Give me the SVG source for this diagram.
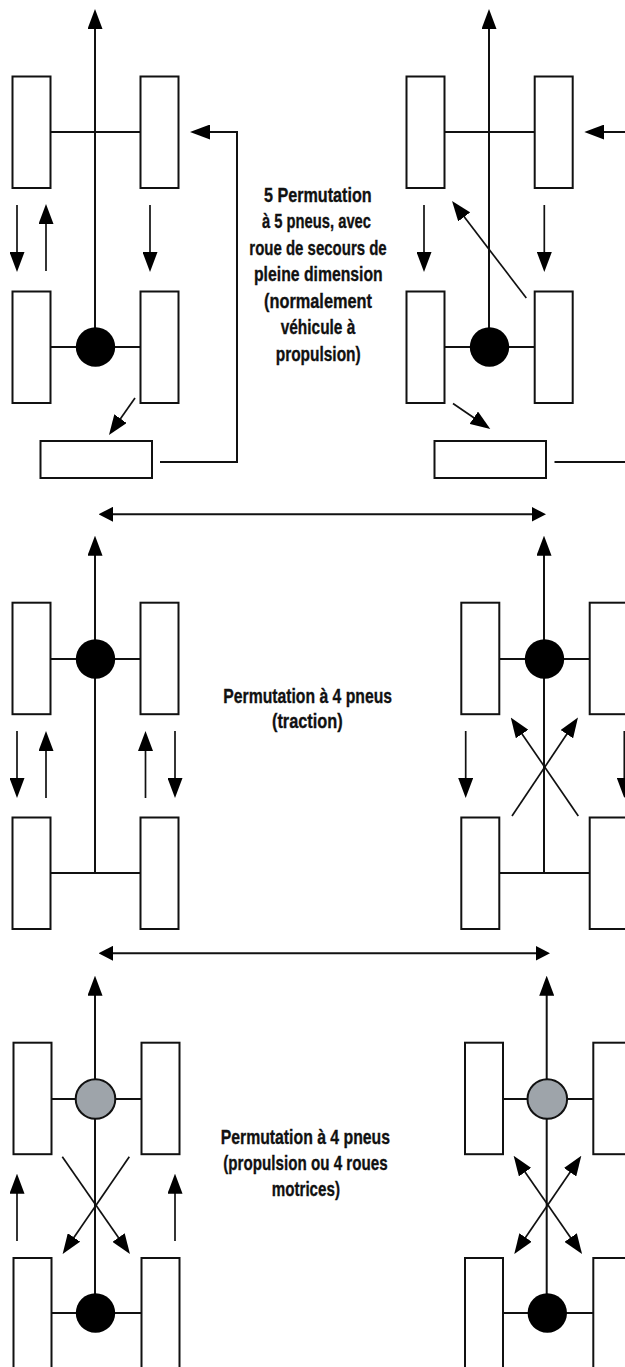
<svg xmlns="http://www.w3.org/2000/svg" width="625" height="1367" viewBox="0 0 625 1367">
<style>
.w{fill:#fff;stroke:#111;stroke-width:2}
.c{fill:none;stroke:#111;stroke-width:2}
.t{fill:none;stroke:#111;stroke-width:1.7}
.a{marker-end:url(#h)}
.b{marker-start:url(#s);marker-end:url(#s)}
.d{marker-start:url(#h);marker-end:url(#h)}
.k{fill:#000}
.g{fill:#9ea4aa;stroke:#111;stroke-width:2}
text{font-family:"Liberation Sans",Arial,sans-serif;font-weight:700;font-size:21px;fill:#111;stroke:#111;stroke-width:.35}
</style>
<defs>
<marker id="h" markerUnits="userSpaceOnUse" markerWidth="20" markerHeight="15" viewBox="0 0 20 15" refX="1" refY="7.5" orient="auto-start-reverse"><path d="M0,0L20,7.5L0,15z" fill="#000"/></marker>
<marker id="s" markerUnits="userSpaceOnUse" markerWidth="14.5" markerHeight="15" viewBox="0 0 14.5 15" refX="1" refY="7.5" orient="auto-start-reverse"><path d="M0,0L14.5,7.5L0,15z" fill="#000"/></marker>
</defs>
<g id="connectors">
<!-- axles and driveshafts -->
<path class="c" d="M51 132H140M51 347H140M445 132H535M445 347H535M51 659H140M51 873H140M95 873V670M499 659H590M499 873H590M544 873V670M52 1099H142M52 1313H142M95 1110V1300M503 1099H594M503 1313H594M546.7 1110V1300"/>
<!-- forward arrows -->
<line class="c a" x1="95" y1="335" x2="95" y2="28"/>
<line class="c a" x1="489" y1="335" x2="489" y2="28"/>
<line class="c a" x1="95" y1="645" x2="95" y2="554.7"/>
<line class="c a" x1="544" y1="645" x2="544" y2="554.7"/>
<line class="c a" x1="95" y1="1085" x2="95" y2="994.7"/>
<line class="c a" x1="546.7" y1="1085" x2="546.7" y2="994.7"/>
<!-- permutation 1 -->
<line class="t a" x1="17" y1="205" x2="17" y2="253"/>
<line class="t a" x1="46" y1="271" x2="46" y2="223"/>
<line class="t a" x1="150" y1="205" x2="150" y2="253"/>
<line class="t a" x1="135" y1="398" x2="119.9" y2="419.5"/>
<path class="c a" d="M160 462H237V132H209"/>
<!-- permutation 2 -->
<line class="t a" x1="424" y1="205" x2="424" y2="253"/>
<line class="t a" x1="544.3" y1="205" x2="544.3" y2="253"/>
<line class="t a" x1="526.3" y1="298" x2="463.6" y2="216.1"/>
<line class="t a" x1="453" y1="403.5" x2="474.6" y2="418.3"/>
<path class="c" d="M554.5 462H625"/>
<line class="c a" x1="625" y1="132" x2="603.3" y2="132"/>
<!-- top double arrow -->
<line class="c b" x1="112" y1="514.3" x2="532.5" y2="514.3"/>
<!-- permutation 3 -->
<line class="t a" x1="17" y1="731" x2="17" y2="779"/>
<line class="t a" x1="46" y1="798" x2="46" y2="750"/>
<line class="t a" x1="145.5" y1="798" x2="145.5" y2="750"/>
<line class="t a" x1="175" y1="731" x2="175" y2="779"/>
<!-- permutation 4 -->
<line class="t a" x1="465.7" y1="731" x2="465.7" y2="779"/>
<line class="t a" x1="624.3" y1="731" x2="624.3" y2="779"/>
<line class="t a" x1="512" y1="816" x2="567.4" y2="733.3"/>
<line class="t a" x1="578.3" y1="816" x2="521.5" y2="733.2"/>
<!-- bottom double arrow -->
<line class="c b" x1="112" y1="953.3" x2="536.5" y2="953.3"/>
<!-- permutation 5 -->
<line class="t a" x1="17" y1="1241" x2="17" y2="1192.7"/>
<line class="t a" x1="175" y1="1241" x2="175" y2="1192.7"/>
<line class="t a" x1="62.3" y1="1156.7" x2="119.1" y2="1238.4"/>
<line class="t a" x1="129.3" y1="1156.7" x2="73.4" y2="1238.3"/>
<!-- permutation 6 -->
<line class="t d" x1="524.5" y1="1171.3" x2="571.2" y2="1238.4"/>
<line class="t d" x1="570.6" y1="1171.4" x2="525" y2="1238.3"/>
</g>
<g id="vehicle-1">
<rect class="w" x="12.5" y="76.5" width="38" height="111.5"/><rect class="w" x="140.5" y="76.5" width="38" height="111.5"/>
<rect class="w" x="12.5" y="291.5" width="38" height="111.5"/><rect class="w" x="140.5" y="291.5" width="38" height="111.5"/>
<circle class="k" cx="95.5" cy="347" r="19.7"/>
<rect class="w" x="40.5" y="441" width="111.5" height="37"/>
</g>
<g id="vehicle-2">
<rect class="w" x="406.5" y="76.5" width="38" height="111.5"/><rect class="w" x="534.7" y="76.5" width="38" height="111.5"/>
<rect class="w" x="406.5" y="291.5" width="38" height="111.5"/><rect class="w" x="534.7" y="291.5" width="38" height="111.5"/>
<circle class="k" cx="489.5" cy="347" r="19.7"/>
<rect class="w" x="434.5" y="441" width="111.5" height="37"/>
</g>
<g id="vehicle-3">
<rect class="w" x="12.5" y="602.7" width="38" height="111.5"/><rect class="w" x="140.5" y="602.7" width="38" height="111.5"/>
<rect class="w" x="12.5" y="817.5" width="38" height="111.5"/><rect class="w" x="140.5" y="817.5" width="38" height="111.5"/>
<circle class="k" cx="95.5" cy="659" r="19.7"/>
</g>
<g id="vehicle-4">
<rect class="w" x="461.3" y="602.7" width="38" height="111.5"/><rect class="w" x="589.7" y="602.7" width="38" height="111.5"/>
<rect class="w" x="461.3" y="817.5" width="38" height="111.5"/><rect class="w" x="589.7" y="817.5" width="38" height="111.5"/>
<circle class="k" cx="544.5" cy="659" r="19.7"/>
</g>
<g id="vehicle-5">
<rect class="w" x="13.5" y="1042.7" width="38" height="111.5"/><rect class="w" x="141.5" y="1042.7" width="38" height="111.5"/>
<rect class="w" x="13.5" y="1258" width="38" height="111.5"/><rect class="w" x="141.5" y="1258" width="38" height="111.5"/>
<circle class="g" cx="95.5" cy="1099" r="19.8"/>
<circle class="k" cx="95.5" cy="1313" r="19.7"/>
</g>
<g id="vehicle-6">
<rect class="w" x="465" y="1042.7" width="38" height="111.5"/><rect class="w" x="593.3" y="1042.7" width="38" height="111.5"/>
<rect class="w" x="465" y="1258" width="38" height="111.5"/><rect class="w" x="593.3" y="1258" width="38" height="111.5"/>
<circle class="g" cx="547.3" cy="1099" r="19.8"/>
<circle class="k" cx="547.3" cy="1313" r="19.7"/>
</g>
<g id="label-1">
<text x="264" y="201.5" textLength="107.7" lengthAdjust="spacingAndGlyphs">5 Permutation</text>
<text x="262" y="228" textLength="109" lengthAdjust="spacingAndGlyphs">à 5 pneus, avec</text>
<text x="249.3" y="254.5" textLength="137.4" lengthAdjust="spacingAndGlyphs">roue de secours de</text>
<text x="254" y="281" textLength="128.7" lengthAdjust="spacingAndGlyphs">pleine dimension</text>
<text x="264" y="307.5" textLength="108" lengthAdjust="spacingAndGlyphs">(normalement</text>
<text x="280.7" y="334" textLength="74.6" lengthAdjust="spacingAndGlyphs">véhicule à</text>
<text x="275.7" y="360.5" textLength="85" lengthAdjust="spacingAndGlyphs">propulsion)</text>
</g>
<g id="label-2">
<text x="223.3" y="702.7" textLength="168.7" lengthAdjust="spacingAndGlyphs">Permutation à 4 pneus</text>
<text x="272" y="728" textLength="70.7" lengthAdjust="spacingAndGlyphs">(traction)</text>
</g>
<g id="label-3">
<text x="220.7" y="1144.3" textLength="169.3" lengthAdjust="spacingAndGlyphs">Permutation à 4 pneus</text>
<text x="223.3" y="1170" textLength="164.4" lengthAdjust="spacingAndGlyphs">(propulsion ou 4 roues</text>
<text x="271.7" y="1195.7" textLength="68.3" lengthAdjust="spacingAndGlyphs">motrices)</text>
</g>
</svg>
